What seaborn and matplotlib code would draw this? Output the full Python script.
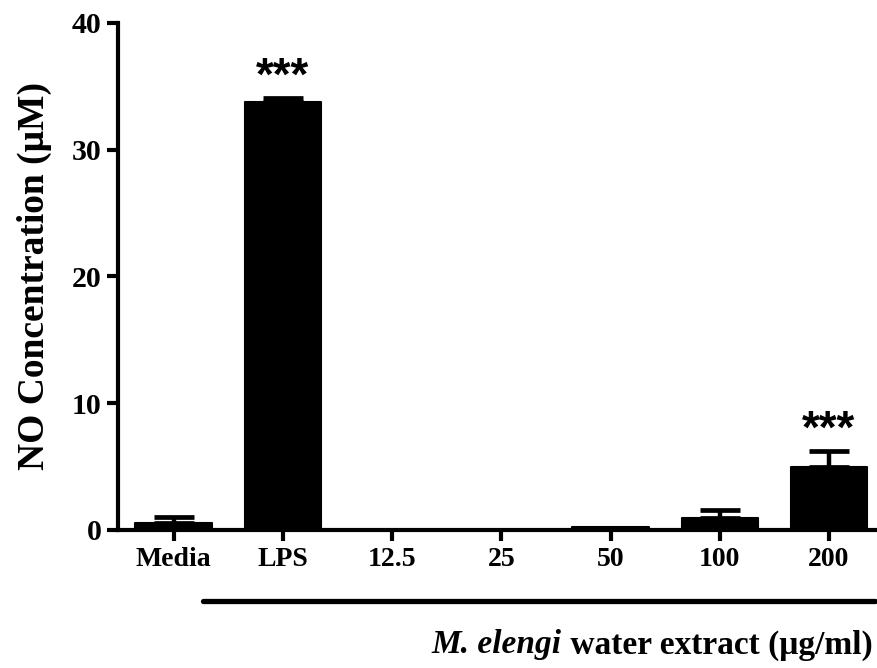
import numpy as np
import pandas as pd
import matplotlib
matplotlib.use("Agg")
import matplotlib.pyplot as plt
import matplotlib.transforms as mtransforms
import seaborn as sns

# NO production by treatment group (mean and SEM, µM)
groups = ["Media", "LPS", "12.5", "25", "50", "100", "200"]
means = [0.55, 33.8, 0.0, 0.0, 0.25, 0.95, 5.0]
sems = [0.45, 0.3, 0.0, 0.0, 0.0, 0.65, 1.2]
significance = ["", "***", "", "", "", "", "***"]

y_ticks = [0, 10, 20, 30, 40]

df = pd.DataFrame({"group": groups, "no": means})

sns.set_style("ticks")
plt.rcParams["font.family"] = ["Liberation Serif", "DejaVu Serif"]
plt.rcParams["font.weight"] = "bold"
for key in ["text.color", "axes.labelcolor", "xtick.color", "ytick.color", "axes.edgecolor"]:
    plt.rcParams[key] = "black"

fig = plt.figure(figsize=(8.77, 6.68), dpi=100)
ax = fig.add_axes([0.1345, 0.2066, 0.8655, 0.759])

sns.barplot(data=df, x="group", y="no", order=groups, color="black",
            width=0.70, errorbar=None, saturation=1, ax=ax,
            edgecolor="black", linewidth=1.5)
for patch in ax.patches:
    patch.set_joinstyle("round")

# upper error bars only
xpos = np.arange(len(groups))
mask = np.array(sems) > 0
eb = ax.errorbar(xpos[mask], np.array(means)[mask],
                 yerr=[np.zeros(mask.sum()), np.array(sems)[mask]],
                 fmt="none", ecolor="black", elinewidth=3.2,
                 capsize=14.5, capthick=3.4, zorder=3)
for cap in eb[1]:
    cap.set_solid_capstyle("round")

# significance stars above error bars
for i, (m, s, star) in enumerate(zip(means, sems, significance)):
    if star:
        ax.annotate(star, xy=(i, m + s), xytext=(0, 6), textcoords="offset points",
                    ha="center", va="baseline", fontsize=33,
                    family=["Liberation Sans", "DejaVu Sans"])

ax.set_ylim(0, 40)
ax.set_xlim(-0.51, 6.44)
ax.set_yticks(y_ticks)
ax.set_xlabel("")
ax.set_ylabel("NO Concentration (μM)", fontsize=27, fontweight="bold", labelpad=14)

sns.despine(ax=ax)
for side in ["left", "bottom"]:
    ax.spines[side].set_linewidth(3.0)
    ax.spines[side].set_capstyle("projecting")
ax.tick_params(axis="both", length=8, width=3.0, pad=4, colors="black")
ax.tick_params(axis="x", labelsize=20)
ax.tick_params(axis="y", labelsize=21.5)
for lab in ax.get_xticklabels() + ax.get_yticklabels():
    lab.set_fontweight("bold")

# bracket line spanning the extract doses
trans = mtransforms.blended_transform_factory(ax.transData, ax.transAxes)
ax.plot([0.27, 6.42], [-0.141, -0.141], color="black", lw=3.8,
        solid_capstyle="round", transform=trans, clip_on=False)

# group label with italic species name
fig.canvas.draw()
t2 = fig.text(0.995, 0.022, " water extract (μg/ml)", ha="right", va="baseline",
              fontsize=24, fontweight="bold")
renderer = fig.canvas.get_renderer()
bb = t2.get_window_extent(renderer=renderer)
x_left = bb.x0 / fig.bbox.width
fig.text(x_left, 0.022, "M. elengi", ha="right", va="baseline",
         fontsize=24, fontweight="bold", fontstyle="italic")

fig.savefig("out.png", dpi=100)
